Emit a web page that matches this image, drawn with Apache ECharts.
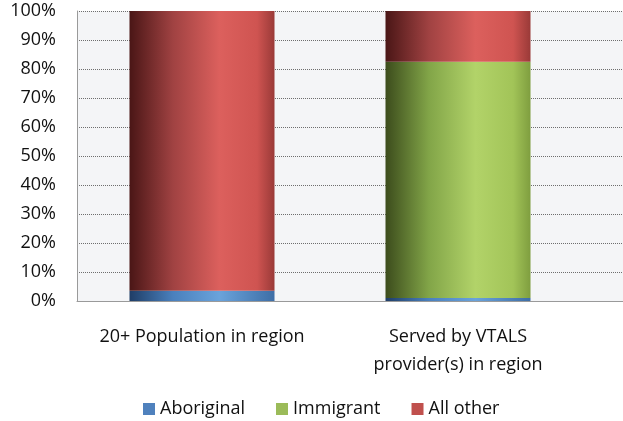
<!DOCTYPE html>
<html><head><meta charset="utf-8">
<script src="https://cdn.jsdelivr.net/npm/echarts@6/dist/echarts.min.js"></script>
<style>html,body{margin:0;padding:0;background:#fff}#c{width:623px;height:421px}</style>
</head><body><div id="c"></div>
<script>
const categories = ['20+ Population in region', 'Served by VTALS\nprovider(s) in region'];
const aboriginal = [3.5, 1];
const immigrant = [0, 81.5];
const allOther = [96.5, 17.5];
const yTicks = [0, 10, 20, 30, 40, 50, 60, 70, 80, 90, 100];

const FONT = 'Open Sans';
function grad(stops) {
  return new echarts.graphic.LinearGradient(0, 0, 1, 0, stops.map((c, i) => ({offset: c[0], color: c[1]})));
}
const redG = grad([[0,'#4a1616'],[0.3,'#a04242'],[0.62,'#dc605d'],[0.88,'#cf5451'],[1,'#9a3a38']]);
const greenG = grad([[0,'#3c4c1c'],[0.3,'#82a548'],[0.62,'#b2d369'],[0.88,'#a2c458'],[1,'#7f9e3f']]);
const blueG = grad([[0,'#1f3d66'],[0.3,'#4a80bd'],[0.62,'#6aa3db'],[1,'#3e6ea6']]);

const chart = echarts.init(document.getElementById('c'), null, {renderer: 'canvas'});
chart.setOption({
  animation: false,
  textStyle: {fontFamily: FONT},
  grid: [
    {left: 77, right: 0, top: 11, bottom: 120, show: true, backgroundColor: '#f4f5f7', borderWidth: 0, containLabel: false},
    {left: 74, width: 512, top: 11, bottom: 120, containLabel: false}
  ],
  xAxis: [
    {gridIndex: 0, type: 'category', data: ['a'], position: 'top', axisLabel: {show: false}, axisTick: {show: false},
     axisLine: {show: true, lineStyle: {color: '#9a9a9a', width: 1}}, splitLine: {show: false}},
    {gridIndex: 1, type: 'category', data: categories, axisLine: {show: false}, axisTick: {show: false},
     axisLabel: {interval: 0, hideOverlap: false, fontSize: 18, color: '#111', margin: 22, lineHeight: 28, fontFamily: FONT, align: 'center'}}
  ],
  yAxis: [
    {gridIndex: 0, type: 'value', min: 0, max: 100, interval: 10,
     axisLabel: {formatter: v => v + '%', fontSize: 18, color: '#111', margin: 21, fontFamily: FONT},
     axisLine: {show: true, lineStyle: {color: '#9a9a9a', width: 1}}, axisTick: {show: false},
     splitLine: {show: true, lineStyle: {color: '#6e6e6e', type: [1, 1], width: 1}}},
    {gridIndex: 1, type: 'value', min: 0, max: 100, show: false, splitLine: {show: false}}
  ],
  legend: {
    top: 400, left: 143, itemWidth: 12, itemHeight: 12, itemGap: 31, icon: 'rect', padding: 0,
    textStyle: {fontSize: 18, color: '#111', fontFamily: FONT},
    data: [
      {name: 'Aboriginal', itemStyle: {color: '#4f81bd'}},
      {name: 'Immigrant', itemStyle: {color: '#9bbb59'}},
      {name: 'All other', itemStyle: {color: '#c0504d'}}
    ]
  },
  series: [
    {name: 'Aboriginal', type: 'bar', stack: 's', xAxisIndex: 1, yAxisIndex: 1, barWidth: 145, data: aboriginal, itemStyle: {color: blueG}},
    {name: 'Immigrant', type: 'bar', stack: 's', xAxisIndex: 1, yAxisIndex: 1, barWidth: 145, data: immigrant, itemStyle: {color: greenG}},
    {name: 'All other', type: 'bar', stack: 's', xAxisIndex: 1, yAxisIndex: 1, barWidth: 145, data: allOther, itemStyle: {color: redG}}
  ]
});
</script></body></html>
